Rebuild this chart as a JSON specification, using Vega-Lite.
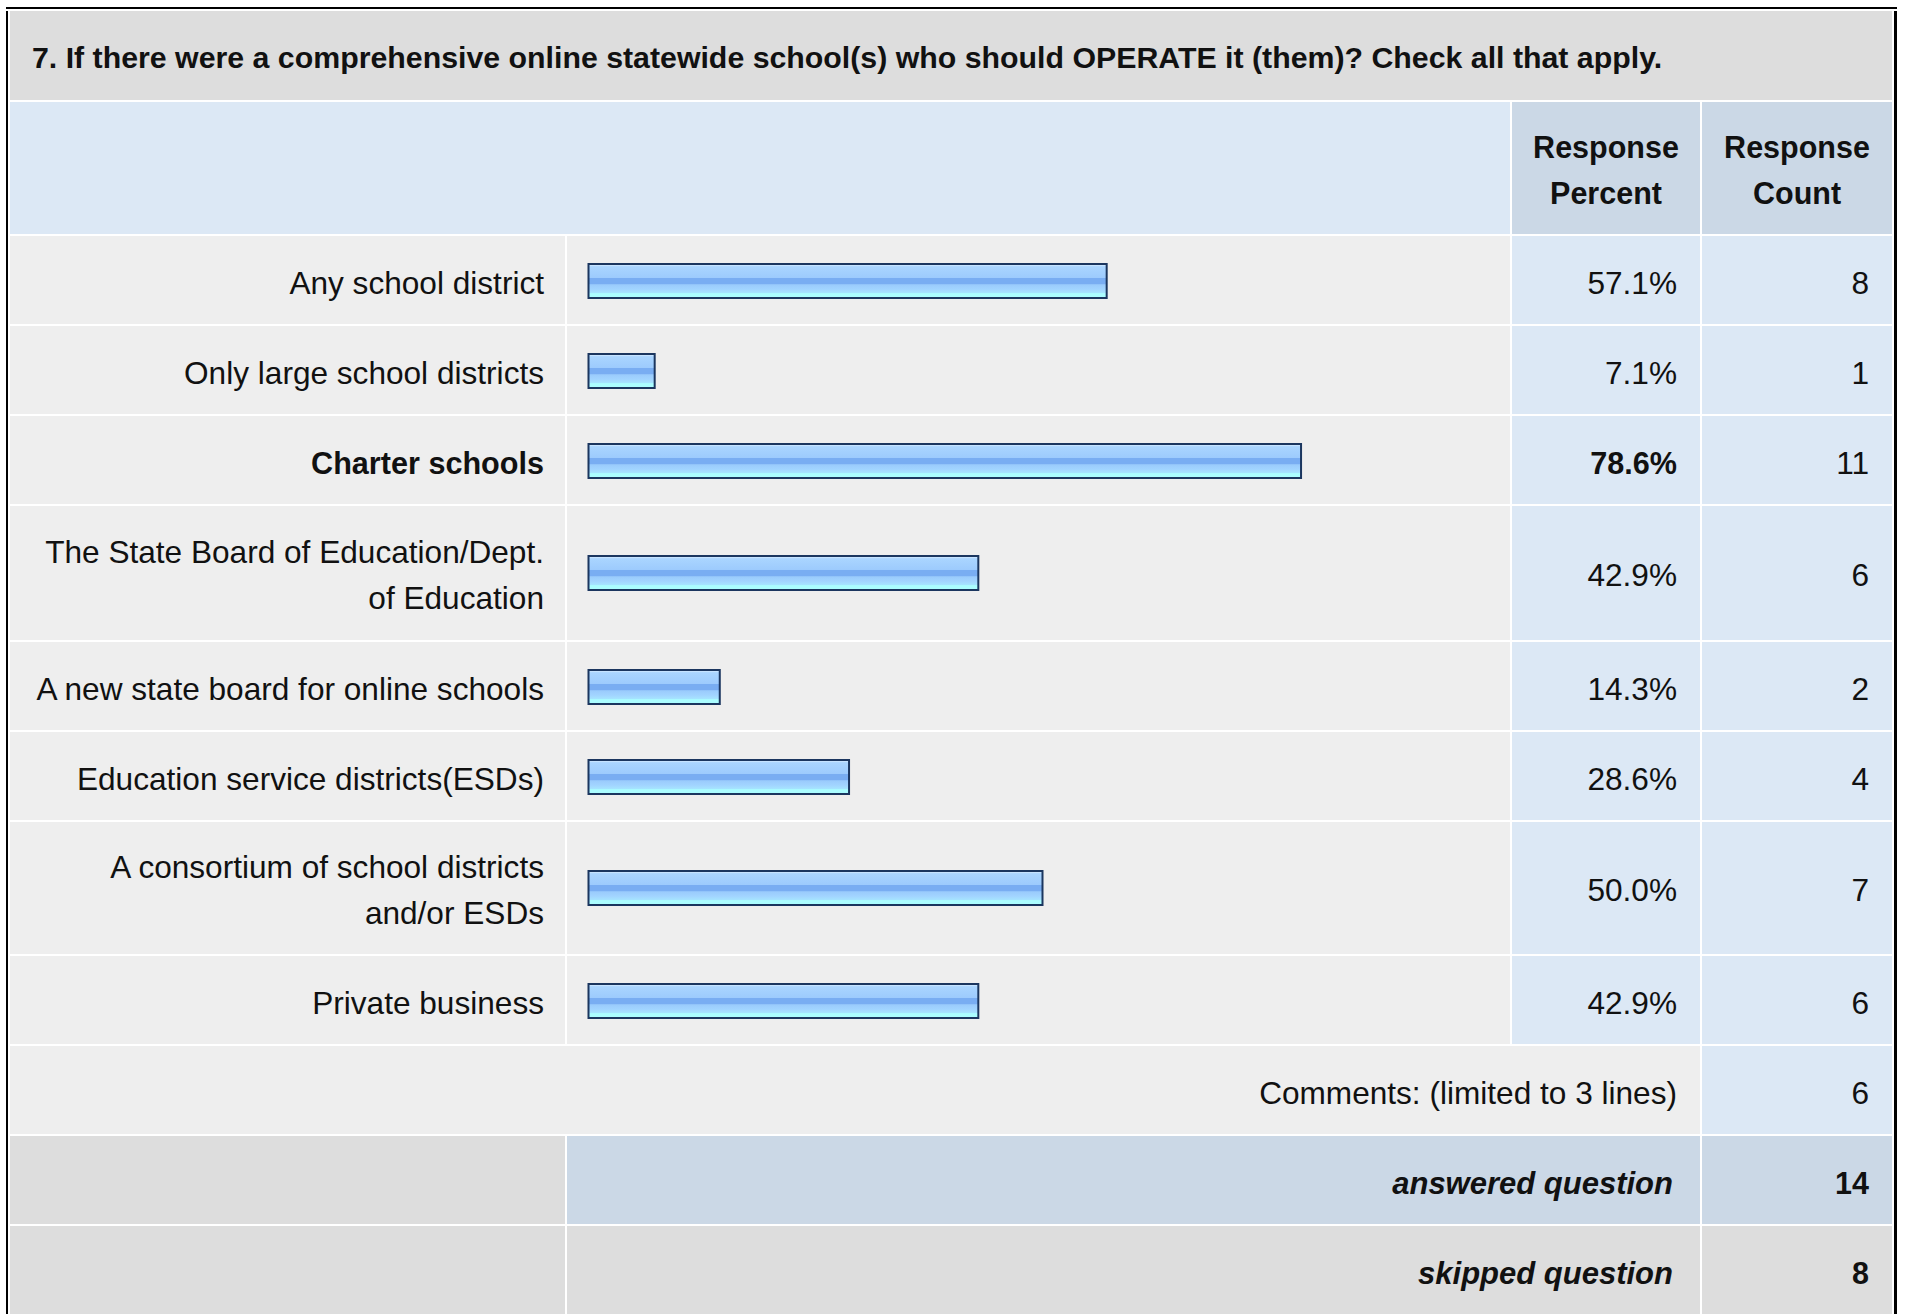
{
  "$schema": "https://vega.github.io/schema/vega-lite/v6.json",
  "padding": {"left": 6, "top": 7, "right": 0, "bottom": 0},
  "background": "#ffffff",
  "spacing": 2,
  "config": {
    "view": {"stroke": null},
    "concat": {"spacing": 2},
    "text": {"font": "Liberation Sans", "fontSize": 31.6, "color": "#111111"}
  },
  "datasets": {
    "question": [{"question": "7. If there were a comprehensive online statewide school(s) who should OPERATE it (them)? Check all that apply."}],
    "columns": [{"key": "percent", "column": "Response\nPercent"}, {"key": "count", "column": "Response\nCount"}],
    "items": [
      {"option": "Any school district", "pct": 0.571, "count": 8},
      {"option": "Only large school districts", "pct": 0.071, "count": 1},
      {"option": "Charter schools", "pct": 0.786, "count": 11},
      {"option": "The State Board of Education/Dept.\nof Education", "pct": 0.429, "count": 6},
      {"option": "A new state board for online schools", "pct": 0.143, "count": 2},
      {"option": "Education service districts(ESDs)", "pct": 0.286, "count": 4},
      {"option": "A consortium of school districts\nand/or ESDs", "pct": 0.5, "count": 7},
      {"option": "Private business", "pct": 0.429, "count": 6}
    ],
    "summary": [
      {"measure": "Comments: (limited to 3 lines)", "count": 6},
      {"measure": "answered question", "count": 14},
      {"measure": "skipped question", "count": 8}
    ]
  },
  "vconcat": [
    {"data": {"name": "question"}, "width": 1891, "height": 2, "view": {"fill": "#000000"}, "mark": {"type": "text", "fontSize": 0}, "encoding": {"text": {"value": ""}}},
    {
      "spacing": 2,
      "hconcat": [
        {"data": {"name": "question"}, "width": 2, "height": 1303, "view": {"fill": "#000000"}, "mark": {"type": "text", "fontSize": 0}, "encoding": {"text": {"value": ""}}},
        {
          "spacing": 2,
          "vconcat": [
            {"data": {"name": "question"}, "width": 1882, "height": 89, "view": {"fill": "#dddddd"},
             "mark": {"type": "text", "align": "left", "baseline": "alphabetic", "dx": 22, "dy": 12.5, "fontSize": 30.3, "fontWeight": "bold"},
             "encoding": {"x": {"value": 0}, "text": {"field": "question", "type": "nominal"}}},
            {"data": {"name": "columns"}, "spacing": 2, "hconcat": [
              {"width": 1500, "height": 132, "view": {"fill": "#dce8f5"}, "mark": {"type": "text", "fontSize": 0}, "encoding": {"text": {"value": ""}}},
              {"width": 188, "height": 132, "view": {"fill": "#cbd8e6"}, "transform": [{"filter": {"field": "key", "equal": "percent"}}],
               "mark": {"type": "text", "align": "center", "baseline": "alphabetic", "dy": -10, "fontSize": 30.5, "fontWeight": "bold", "lineBreak": "\n", "lineHeight": 46},
               "encoding": {"text": {"field": "column", "type": "nominal"}}},
              {"width": 190, "height": 132, "view": {"fill": "#cbd8e6"}, "transform": [{"filter": {"field": "key", "equal": "count"}}],
               "mark": {"type": "text", "align": "center", "baseline": "alphabetic", "dy": -10, "fontSize": 30.5, "fontWeight": "bold", "lineBreak": "\n", "lineHeight": 46},
               "encoding": {"text": {"field": "column", "type": "nominal"}}}
            ]},
            {"data": {"name": "items"}, "transform": [{"filter": {"field": "option", "equal": "Any school district"}}], "spacing": 2, "hconcat": [
              {"width": 555, "height": 88, "view": {"fill": "#eeeeee"}, "mark": {"type": "text", "align": "right", "baseline": "alphabetic", "dx": -21, "dy": 14}, "encoding": {"x": {"value": "width"}, "text": {"field": "option", "type": "nominal"}}},
              {"width": 943, "height": 88, "view": {"fill": "#eeeeee"}, "mark": {"type": "rect", "fill": {"gradient": "linear", "x1": 0, "y1": 0, "x2": 0, "y2": 1, "stops": [{"offset": 0, "color": "#c6e3ff"}, {"offset": 0.065, "color": "#c6e3ff"}, {"offset": 0.075, "color": "#aad5ff"}, {"offset": 0.4, "color": "#9dcbfd"}, {"offset": 0.42, "color": "#79adf2"}, {"offset": 0.58, "color": "#79adf2"}, {"offset": 0.61, "color": "#9acbfc"}, {"offset": 0.74, "color": "#a2d4ff"}, {"offset": 0.85, "color": "#a6e4ff"}, {"offset": 0.87, "color": "#abfdff"}, {"offset": 1, "color": "#abfdff"}]}, "stroke": "#1b365f", "strokeWidth": 2, "xOffset": 3, "x2Offset": 1, "yOffset": 28, "y2Offset": -26},
               "encoding": {"x": {"field": "pct", "type": "quantitative", "scale": {"domain": [0, 1], "range": [20.5, 924.5]}, "axis": null}, "x2": {"datum": 0}, "y": {"value": 0}, "y2": {"value": "height"}}},
              {"width": 188, "height": 88, "view": {"fill": "#dce8f5"}, "mark": {"type": "text", "align": "right", "baseline": "alphabetic", "dx": -23, "dy": 14}, "encoding": {"x": {"value": "width"}, "text": {"field": "pct", "type": "quantitative", "format": ".1%"}}},
              {"width": 190, "height": 88, "view": {"fill": "#dce8f5"}, "mark": {"type": "text", "align": "right", "baseline": "alphabetic", "dx": -23, "dy": 14}, "encoding": {"x": {"value": "width"}, "text": {"field": "count", "type": "quantitative"}}}
            ]},
            {"data": {"name": "items"}, "transform": [{"filter": {"field": "option", "equal": "Only large school districts"}}], "spacing": 2, "hconcat": [
              {"width": 555, "height": 88, "view": {"fill": "#eeeeee"}, "mark": {"type": "text", "align": "right", "baseline": "alphabetic", "dx": -21, "dy": 14}, "encoding": {"x": {"value": "width"}, "text": {"field": "option", "type": "nominal"}}},
              {"width": 943, "height": 88, "view": {"fill": "#eeeeee"}, "mark": {"type": "rect", "fill": {"gradient": "linear", "x1": 0, "y1": 0, "x2": 0, "y2": 1, "stops": [{"offset": 0, "color": "#c6e3ff"}, {"offset": 0.065, "color": "#c6e3ff"}, {"offset": 0.075, "color": "#aad5ff"}, {"offset": 0.4, "color": "#9dcbfd"}, {"offset": 0.42, "color": "#79adf2"}, {"offset": 0.58, "color": "#79adf2"}, {"offset": 0.61, "color": "#9acbfc"}, {"offset": 0.74, "color": "#a2d4ff"}, {"offset": 0.85, "color": "#a6e4ff"}, {"offset": 0.87, "color": "#abfdff"}, {"offset": 1, "color": "#abfdff"}]}, "stroke": "#1b365f", "strokeWidth": 2, "xOffset": 3, "x2Offset": 1, "yOffset": 28, "y2Offset": -26},
               "encoding": {"x": {"field": "pct", "type": "quantitative", "scale": {"domain": [0, 1], "range": [20.5, 924.5]}, "axis": null}, "x2": {"datum": 0}, "y": {"value": 0}, "y2": {"value": "height"}}},
              {"width": 188, "height": 88, "view": {"fill": "#dce8f5"}, "mark": {"type": "text", "align": "right", "baseline": "alphabetic", "dx": -23, "dy": 14}, "encoding": {"x": {"value": "width"}, "text": {"field": "pct", "type": "quantitative", "format": ".1%"}}},
              {"width": 190, "height": 88, "view": {"fill": "#dce8f5"}, "mark": {"type": "text", "align": "right", "baseline": "alphabetic", "dx": -23, "dy": 14}, "encoding": {"x": {"value": "width"}, "text": {"field": "count", "type": "quantitative"}}}
            ]},
            {"data": {"name": "items"}, "transform": [{"filter": {"field": "option", "equal": "Charter schools"}}], "spacing": 2, "hconcat": [
              {"width": 555, "height": 88, "view": {"fill": "#eeeeee"}, "mark": {"type": "text", "align": "right", "baseline": "alphabetic", "dx": -21, "dy": 14, "fontWeight": "bold", "fontSize": 30.6}, "encoding": {"x": {"value": "width"}, "text": {"field": "option", "type": "nominal"}}},
              {"width": 943, "height": 88, "view": {"fill": "#eeeeee"}, "mark": {"type": "rect", "fill": {"gradient": "linear", "x1": 0, "y1": 0, "x2": 0, "y2": 1, "stops": [{"offset": 0, "color": "#c6e3ff"}, {"offset": 0.065, "color": "#c6e3ff"}, {"offset": 0.075, "color": "#aad5ff"}, {"offset": 0.4, "color": "#9dcbfd"}, {"offset": 0.42, "color": "#79adf2"}, {"offset": 0.58, "color": "#79adf2"}, {"offset": 0.61, "color": "#9acbfc"}, {"offset": 0.74, "color": "#a2d4ff"}, {"offset": 0.85, "color": "#a6e4ff"}, {"offset": 0.87, "color": "#abfdff"}, {"offset": 1, "color": "#abfdff"}]}, "stroke": "#1b365f", "strokeWidth": 2, "xOffset": 3, "x2Offset": 1, "yOffset": 28, "y2Offset": -26},
               "encoding": {"x": {"field": "pct", "type": "quantitative", "scale": {"domain": [0, 1], "range": [20.5, 924.5]}, "axis": null}, "x2": {"datum": 0}, "y": {"value": 0}, "y2": {"value": "height"}}},
              {"width": 188, "height": 88, "view": {"fill": "#dce8f5"}, "mark": {"type": "text", "align": "right", "baseline": "alphabetic", "dx": -23, "dy": 14, "fontWeight": "bold", "fontSize": 30.6}, "encoding": {"x": {"value": "width"}, "text": {"field": "pct", "type": "quantitative", "format": ".1%"}}},
              {"width": 190, "height": 88, "view": {"fill": "#dce8f5"}, "mark": {"type": "text", "align": "right", "baseline": "alphabetic", "dx": -23, "dy": 14}, "encoding": {"x": {"value": "width"}, "text": {"field": "count", "type": "quantitative"}}}
            ]},
            {"data": {"name": "items"}, "transform": [{"filter": {"field": "option", "equal": "The State Board of Education/Dept.\nof Education"}}], "spacing": 2, "hconcat": [
              {"width": 555, "height": 134, "view": {"fill": "#eeeeee"}, "mark": {"type": "text", "align": "right", "baseline": "alphabetic", "dx": -21, "dy": -10, "lineBreak": "\n", "lineHeight": 46}, "encoding": {"x": {"value": "width"}, "text": {"field": "option", "type": "nominal"}}},
              {"width": 943, "height": 134, "view": {"fill": "#eeeeee"}, "mark": {"type": "rect", "fill": {"gradient": "linear", "x1": 0, "y1": 0, "x2": 0, "y2": 1, "stops": [{"offset": 0, "color": "#c6e3ff"}, {"offset": 0.065, "color": "#c6e3ff"}, {"offset": 0.075, "color": "#aad5ff"}, {"offset": 0.4, "color": "#9dcbfd"}, {"offset": 0.42, "color": "#79adf2"}, {"offset": 0.58, "color": "#79adf2"}, {"offset": 0.61, "color": "#9acbfc"}, {"offset": 0.74, "color": "#a2d4ff"}, {"offset": 0.85, "color": "#a6e4ff"}, {"offset": 0.87, "color": "#abfdff"}, {"offset": 1, "color": "#abfdff"}]}, "stroke": "#1b365f", "strokeWidth": 2, "xOffset": 3, "x2Offset": 1, "yOffset": 50, "y2Offset": -50},
               "encoding": {"x": {"field": "pct", "type": "quantitative", "scale": {"domain": [0, 1], "range": [20.5, 924.5]}, "axis": null}, "x2": {"datum": 0}, "y": {"value": 0}, "y2": {"value": "height"}}},
              {"width": 188, "height": 134, "view": {"fill": "#dce8f5"}, "mark": {"type": "text", "align": "right", "baseline": "alphabetic", "dx": -23, "dy": 13}, "encoding": {"x": {"value": "width"}, "text": {"field": "pct", "type": "quantitative", "format": ".1%"}}},
              {"width": 190, "height": 134, "view": {"fill": "#dce8f5"}, "mark": {"type": "text", "align": "right", "baseline": "alphabetic", "dx": -23, "dy": 13}, "encoding": {"x": {"value": "width"}, "text": {"field": "count", "type": "quantitative"}}}
            ]},
            {"data": {"name": "items"}, "transform": [{"filter": {"field": "option", "equal": "A new state board for online schools"}}], "spacing": 2, "hconcat": [
              {"width": 555, "height": 88, "view": {"fill": "#eeeeee"}, "mark": {"type": "text", "align": "right", "baseline": "alphabetic", "dx": -21, "dy": 14}, "encoding": {"x": {"value": "width"}, "text": {"field": "option", "type": "nominal"}}},
              {"width": 943, "height": 88, "view": {"fill": "#eeeeee"}, "mark": {"type": "rect", "fill": {"gradient": "linear", "x1": 0, "y1": 0, "x2": 0, "y2": 1, "stops": [{"offset": 0, "color": "#c6e3ff"}, {"offset": 0.065, "color": "#c6e3ff"}, {"offset": 0.075, "color": "#aad5ff"}, {"offset": 0.4, "color": "#9dcbfd"}, {"offset": 0.42, "color": "#79adf2"}, {"offset": 0.58, "color": "#79adf2"}, {"offset": 0.61, "color": "#9acbfc"}, {"offset": 0.74, "color": "#a2d4ff"}, {"offset": 0.85, "color": "#a6e4ff"}, {"offset": 0.87, "color": "#abfdff"}, {"offset": 1, "color": "#abfdff"}]}, "stroke": "#1b365f", "strokeWidth": 2, "xOffset": 3, "x2Offset": 1, "yOffset": 28, "y2Offset": -26},
               "encoding": {"x": {"field": "pct", "type": "quantitative", "scale": {"domain": [0, 1], "range": [20.5, 924.5]}, "axis": null}, "x2": {"datum": 0}, "y": {"value": 0}, "y2": {"value": "height"}}},
              {"width": 188, "height": 88, "view": {"fill": "#dce8f5"}, "mark": {"type": "text", "align": "right", "baseline": "alphabetic", "dx": -23, "dy": 14}, "encoding": {"x": {"value": "width"}, "text": {"field": "pct", "type": "quantitative", "format": ".1%"}}},
              {"width": 190, "height": 88, "view": {"fill": "#dce8f5"}, "mark": {"type": "text", "align": "right", "baseline": "alphabetic", "dx": -23, "dy": 14}, "encoding": {"x": {"value": "width"}, "text": {"field": "count", "type": "quantitative"}}}
            ]},
            {"data": {"name": "items"}, "transform": [{"filter": {"field": "option", "equal": "Education service districts(ESDs)"}}], "spacing": 2, "hconcat": [
              {"width": 555, "height": 88, "view": {"fill": "#eeeeee"}, "mark": {"type": "text", "align": "right", "baseline": "alphabetic", "dx": -21, "dy": 14}, "encoding": {"x": {"value": "width"}, "text": {"field": "option", "type": "nominal"}}},
              {"width": 943, "height": 88, "view": {"fill": "#eeeeee"}, "mark": {"type": "rect", "fill": {"gradient": "linear", "x1": 0, "y1": 0, "x2": 0, "y2": 1, "stops": [{"offset": 0, "color": "#c6e3ff"}, {"offset": 0.065, "color": "#c6e3ff"}, {"offset": 0.075, "color": "#aad5ff"}, {"offset": 0.4, "color": "#9dcbfd"}, {"offset": 0.42, "color": "#79adf2"}, {"offset": 0.58, "color": "#79adf2"}, {"offset": 0.61, "color": "#9acbfc"}, {"offset": 0.74, "color": "#a2d4ff"}, {"offset": 0.85, "color": "#a6e4ff"}, {"offset": 0.87, "color": "#abfdff"}, {"offset": 1, "color": "#abfdff"}]}, "stroke": "#1b365f", "strokeWidth": 2, "xOffset": 3, "x2Offset": 1, "yOffset": 28, "y2Offset": -26},
               "encoding": {"x": {"field": "pct", "type": "quantitative", "scale": {"domain": [0, 1], "range": [20.5, 924.5]}, "axis": null}, "x2": {"datum": 0}, "y": {"value": 0}, "y2": {"value": "height"}}},
              {"width": 188, "height": 88, "view": {"fill": "#dce8f5"}, "mark": {"type": "text", "align": "right", "baseline": "alphabetic", "dx": -23, "dy": 14}, "encoding": {"x": {"value": "width"}, "text": {"field": "pct", "type": "quantitative", "format": ".1%"}}},
              {"width": 190, "height": 88, "view": {"fill": "#dce8f5"}, "mark": {"type": "text", "align": "right", "baseline": "alphabetic", "dx": -23, "dy": 14}, "encoding": {"x": {"value": "width"}, "text": {"field": "count", "type": "quantitative"}}}
            ]},
            {"data": {"name": "items"}, "transform": [{"filter": {"field": "option", "equal": "A consortium of school districts\nand/or ESDs"}}], "spacing": 2, "hconcat": [
              {"width": 555, "height": 132, "view": {"fill": "#eeeeee"}, "mark": {"type": "text", "align": "right", "baseline": "alphabetic", "dx": -21, "dy": -10, "lineBreak": "\n", "lineHeight": 46}, "encoding": {"x": {"value": "width"}, "text": {"field": "option", "type": "nominal"}}},
              {"width": 943, "height": 132, "view": {"fill": "#eeeeee"}, "mark": {"type": "rect", "fill": {"gradient": "linear", "x1": 0, "y1": 0, "x2": 0, "y2": 1, "stops": [{"offset": 0, "color": "#c6e3ff"}, {"offset": 0.065, "color": "#c6e3ff"}, {"offset": 0.075, "color": "#aad5ff"}, {"offset": 0.4, "color": "#9dcbfd"}, {"offset": 0.42, "color": "#79adf2"}, {"offset": 0.58, "color": "#79adf2"}, {"offset": 0.61, "color": "#9acbfc"}, {"offset": 0.74, "color": "#a2d4ff"}, {"offset": 0.85, "color": "#a6e4ff"}, {"offset": 0.87, "color": "#abfdff"}, {"offset": 1, "color": "#abfdff"}]}, "stroke": "#1b365f", "strokeWidth": 2, "xOffset": 3, "x2Offset": 1, "yOffset": 49, "y2Offset": -49},
               "encoding": {"x": {"field": "pct", "type": "quantitative", "scale": {"domain": [0, 1], "range": [20.5, 924.5]}, "axis": null}, "x2": {"datum": 0}, "y": {"value": 0}, "y2": {"value": "height"}}},
              {"width": 188, "height": 132, "view": {"fill": "#dce8f5"}, "mark": {"type": "text", "align": "right", "baseline": "alphabetic", "dx": -23, "dy": 13}, "encoding": {"x": {"value": "width"}, "text": {"field": "pct", "type": "quantitative", "format": ".1%"}}},
              {"width": 190, "height": 132, "view": {"fill": "#dce8f5"}, "mark": {"type": "text", "align": "right", "baseline": "alphabetic", "dx": -23, "dy": 13}, "encoding": {"x": {"value": "width"}, "text": {"field": "count", "type": "quantitative"}}}
            ]},
            {"data": {"name": "items"}, "transform": [{"filter": {"field": "option", "equal": "Private business"}}], "spacing": 2, "hconcat": [
              {"width": 555, "height": 88, "view": {"fill": "#eeeeee"}, "mark": {"type": "text", "align": "right", "baseline": "alphabetic", "dx": -21, "dy": 14}, "encoding": {"x": {"value": "width"}, "text": {"field": "option", "type": "nominal"}}},
              {"width": 943, "height": 88, "view": {"fill": "#eeeeee"}, "mark": {"type": "rect", "fill": {"gradient": "linear", "x1": 0, "y1": 0, "x2": 0, "y2": 1, "stops": [{"offset": 0, "color": "#c6e3ff"}, {"offset": 0.065, "color": "#c6e3ff"}, {"offset": 0.075, "color": "#aad5ff"}, {"offset": 0.4, "color": "#9dcbfd"}, {"offset": 0.42, "color": "#79adf2"}, {"offset": 0.58, "color": "#79adf2"}, {"offset": 0.61, "color": "#9acbfc"}, {"offset": 0.74, "color": "#a2d4ff"}, {"offset": 0.85, "color": "#a6e4ff"}, {"offset": 0.87, "color": "#abfdff"}, {"offset": 1, "color": "#abfdff"}]}, "stroke": "#1b365f", "strokeWidth": 2, "xOffset": 3, "x2Offset": 1, "yOffset": 28, "y2Offset": -26},
               "encoding": {"x": {"field": "pct", "type": "quantitative", "scale": {"domain": [0, 1], "range": [20.5, 924.5]}, "axis": null}, "x2": {"datum": 0}, "y": {"value": 0}, "y2": {"value": "height"}}},
              {"width": 188, "height": 88, "view": {"fill": "#dce8f5"}, "mark": {"type": "text", "align": "right", "baseline": "alphabetic", "dx": -23, "dy": 14}, "encoding": {"x": {"value": "width"}, "text": {"field": "pct", "type": "quantitative", "format": ".1%"}}},
              {"width": 190, "height": 88, "view": {"fill": "#dce8f5"}, "mark": {"type": "text", "align": "right", "baseline": "alphabetic", "dx": -23, "dy": 14}, "encoding": {"x": {"value": "width"}, "text": {"field": "count", "type": "quantitative"}}}
            ]},
            {"data": {"name": "summary"}, "transform": [{"filter": {"field": "measure", "equal": "Comments: (limited to 3 lines)"}}], "spacing": 2, "hconcat": [
              {"width": 1690, "height": 88, "view": {"fill": "#eeeeee"}, "mark": {"type": "text", "align": "right", "baseline": "alphabetic", "dx": -23, "dy": 14}, "encoding": {"x": {"value": "width"}, "text": {"field": "measure", "type": "nominal"}}},
              {"width": 190, "height": 88, "view": {"fill": "#dce8f5"}, "mark": {"type": "text", "align": "right", "baseline": "alphabetic", "dx": -23, "dy": 14}, "encoding": {"x": {"value": "width"}, "text": {"field": "count", "type": "quantitative"}}}
            ]},
            {"data": {"name": "summary"}, "transform": [{"filter": {"field": "measure", "equal": "answered question"}}], "spacing": 2, "hconcat": [
              {"width": 555, "height": 88, "view": {"fill": "#dddddd"}, "mark": {"type": "text", "fontSize": 0}, "encoding": {"text": {"value": ""}}},
              {"width": 1133, "height": 88, "view": {"fill": "#cbd8e6"}, "mark": {"type": "text", "align": "right", "baseline": "alphabetic", "dx": -27, "dy": 14, "fontWeight": "bold", "fontStyle": "italic", "fontSize": 31}, "encoding": {"x": {"value": "width"}, "text": {"field": "measure", "type": "nominal"}}},
              {"width": 190, "height": 88, "view": {"fill": "#cbd8e6"}, "mark": {"type": "text", "align": "right", "baseline": "alphabetic", "dx": -23, "dy": 14, "fontWeight": "bold", "fontSize": 30.5}, "encoding": {"x": {"value": "width"}, "text": {"field": "count", "type": "quantitative"}}}
            ]},
            {"data": {"name": "summary"}, "transform": [{"filter": {"field": "measure", "equal": "skipped question"}}], "spacing": 2, "hconcat": [
              {"width": 555, "height": 88, "view": {"fill": "#dddddd"}, "mark": {"type": "text", "fontSize": 0}, "encoding": {"text": {"value": ""}}},
              {"width": 1133, "height": 88, "view": {"fill": "#dddddd"}, "mark": {"type": "text", "align": "right", "baseline": "alphabetic", "dx": -27, "dy": 14, "fontWeight": "bold", "fontStyle": "italic", "fontSize": 31}, "encoding": {"x": {"value": "width"}, "text": {"field": "measure", "type": "nominal"}}},
              {"width": 190, "height": 88, "view": {"fill": "#dddddd"}, "mark": {"type": "text", "align": "right", "baseline": "alphabetic", "dx": -23, "dy": 14, "fontWeight": "bold", "fontSize": 30.5}, "encoding": {"x": {"value": "width"}, "text": {"field": "count", "type": "quantitative"}}}
            ]}
          ]
        },
        {"data": {"name": "question"}, "width": 3, "height": 1303, "view": {"fill": "#000000"}, "mark": {"type": "text", "fontSize": 0}, "encoding": {"text": {"value": ""}}}
      ]
    }
  ]
}
